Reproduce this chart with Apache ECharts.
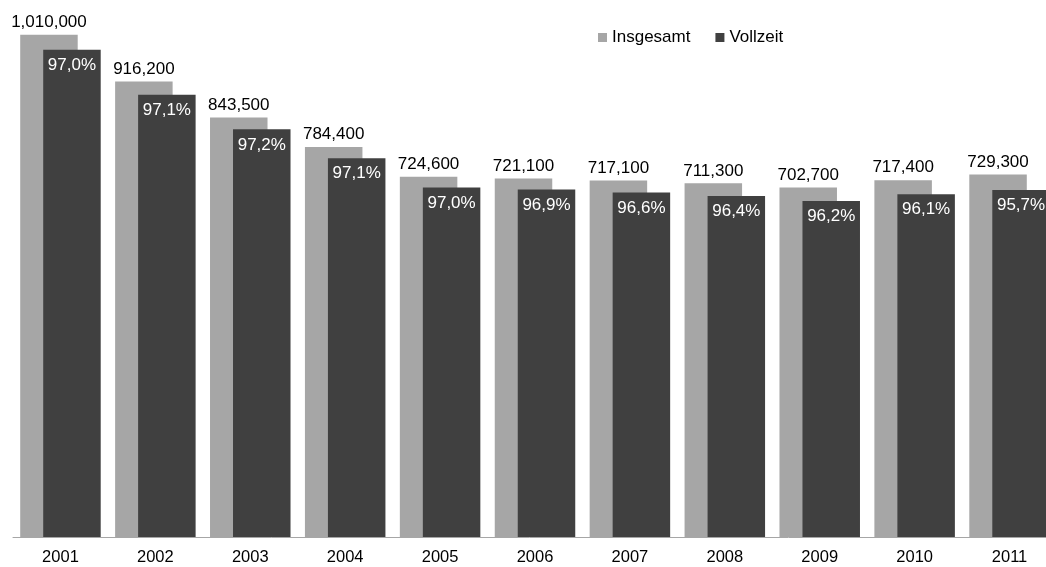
<!DOCTYPE html>
<html>
<head>
<meta charset="utf-8">
<script src="https://cdn.jsdelivr.net/npm/echarts@6/dist/echarts.min.js"></script>
<style>
  html, body { margin: 0; padding: 0; background: #ffffff; }
  #chart { width: 1046px; height: 567px; }
</style>
</head>
<body>
<div id="chart"></div>
<script>
// Jahre
const years = ['2001', '2002', '2003', '2004', '2005', '2006', '2007', '2008', '2009', '2010', '2011'];
// Insgesamt (Anzahl)
const insgesamt = [1010000, 916200, 843500, 784400, 724600, 721100, 717100, 711300, 702700, 717400, 729300];
// Anteil Vollzeit in Prozent
const vollzeitAnteil = [97.0, 97.1, 97.2, 97.1, 97.0, 96.9, 96.6, 96.4, 96.2, 96.1, 95.7];
// Vollzeit (Anzahl) aus Insgesamt und Anteil
const vollzeit = insgesamt.map((v, i) => Math.round(v * vollzeitAnteil[i] / 100));

const fontFamily = '"Liberation Sans", Arial, sans-serif';
const fmtThousands = v => String(v).replace(/\B(?=(\d{3})+(?!\d))/g, ',');
const fmtPct = v => v.toFixed(1).replace('.', ',') + '%';

const chart = echarts.init(document.getElementById('chart'), null, { renderer: 'canvas' });
chart.setOption({
  animation: false,
  backgroundColor: '#ffffff',
  textStyle: { fontFamily: fontFamily },
  legend: {
    left: 593,
    top: 24,
    itemWidth: 9,
    itemHeight: 9,
    itemGap: 25,
    icon: 'rect',
    textStyle: { fontSize: 17, color: '#000000', fontFamily: fontFamily },
    data: ['Insgesamt', 'Vollzeit']
  },
  // the last category runs past the right edge of the canvas
  grid: { left: 13, width: 1044, top: 0, bottom: 30, containLabel: false, outerBoundsMode: 'none' },
  xAxis: {
    type: 'category',
    data: years,
    axisLine: { lineStyle: { color: '#a6a6a6', width: 1 } },
    axisTick: { show: false },
    axisLabel: { fontSize: 16.5, color: '#000000', margin: 12, fontFamily: fontFamily }
  },
  yAxis: {
    type: 'value',
    min: 0,
    max: 1080000,
    show: false,
    splitLine: { show: false }
  },
  series: [
    {
      name: 'Insgesamt',
      type: 'bar',
      data: insgesamt,
      barWidth: 57.5,
      barGap: '-60%',
      itemStyle: { color: '#a6a6a6' },
      label: {
        show: true,
        position: 'top',
        distance: 4,
        fontSize: 17,
        color: '#000000',
        fontFamily: fontFamily,
        formatter: p => fmtThousands(p.value)
      }
    },
    {
      name: 'Vollzeit',
      type: 'bar',
      data: vollzeit,
      barWidth: 57.5,
      itemStyle: { color: '#404040' },
      label: {
        show: true,
        position: 'insideTop',
        distance: 7,
        fontSize: 17,
        color: '#ffffff',
        fontFamily: fontFamily,
        formatter: p => fmtPct(vollzeitAnteil[p.dataIndex])
      }
    }
  ]
});
</script>
</body>
</html>
